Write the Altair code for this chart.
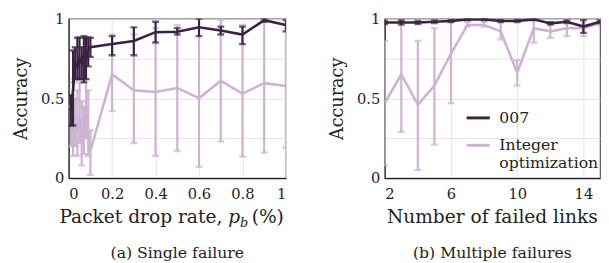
import altair as alt
import pandas as pd

# ---------------- data ----------------
series_names = ["007", "Integer optimization"]
colors = ["#3b2242", "#cdb2d2"]

left_x = [0.01, 0.02, 0.03, 0.04, 0.05, 0.06, 0.07, 0.08, 0.09, 0.1,
          0.2, 0.3, 0.4, 0.5, 0.6, 0.7, 0.8, 0.9, 1.0]
left_007_mean = [0.42, 0.55, 0.72, 0.70, 0.75, 0.72, 0.78, 0.75, 0.80, 0.82,
                 0.84, 0.86, 0.915, 0.918, 0.945, 0.925, 0.90, 0.99, 0.96]
left_007_lo = [0.33, 0.33, 0.62, 0.62, 0.62, 0.62, 0.60, 0.62, 0.70, 0.76,
               0.77, 0.77, 0.85, 0.90, 0.89, 0.90, 0.84, 0.98, 0.92]
left_007_hi = [0.52, 0.80, 0.82, 0.88, 0.88, 0.82, 0.89, 0.88, 0.88, 0.88,
               0.89, 0.945, 0.98, 0.94, 1.00, 0.95, 0.95, 1.00, 0.99]
left_int_mean = [0.30, 0.25, 0.35, 0.30, 0.38, 0.22, 0.32, 0.45, 0.25, 0.17,
                 0.65, 0.55, 0.54, 0.565, 0.50, 0.61, 0.53, 0.595, 0.577]
left_int_lo = [0.20, 0.14, 0.20, 0.14, 0.22, 0.08, 0.15, 0.25, 0.14, 0.02,
               0.42, 0.22, 0.14, 0.17, 0.07, 0.23, 0.135, 0.16, 0.19]
left_int_hi = [0.45, 0.60, 0.50, 0.55, 0.60, 0.48, 0.45, 0.62, 0.55, 0.30,
               0.90, 0.90, 0.94, 0.96, 1.00, 0.99, 0.96, 1.00, 0.96]

right_x = [2, 3, 4, 5, 6, 7, 8, 9, 10, 11, 12, 13, 14, 15]
right_007_mean = [0.975, 0.975, 0.975, 0.98, 0.985, 0.995, 0.995, 0.985, 0.985,
                  0.995, 0.97, 0.98, 0.95, 0.98]
right_007_lo = [0.965, 0.962, 0.965, 0.972, 0.978, 0.99, 0.99, 0.978, 0.978,
                0.99, 0.962, 0.972, 0.91, 0.972]
right_007_hi = [0.985, 0.988, 0.985, 0.988, 0.992, 1.0, 1.0, 0.992, 0.992,
                1.0, 0.978, 0.988, 0.99, 0.988]
right_int_mean = [0.47, 0.65, 0.46, 0.58, 0.78, 0.96, 0.96, 0.92, 0.66, 0.94,
                  0.92, 0.94, 0.94, 0.97]
right_int_lo = [0.08, 0.29, 0.05, 0.21, 0.47, 0.95, 0.95, 0.87, 0.58, 0.85,
                0.88, 0.89, 0.89, 0.96]
right_int_hi = [0.86, 0.99, 0.86, 0.94, 1.00, 0.98, 0.98, 1.00, 0.74, 1.00,
                0.97, 1.00, 1.00, 0.98]

y_ticks = [0, 0.25, 0.5, 0.75, 1]
left_x_ticks = [0, 0.2, 0.4, 0.6, 0.8, 1]
right_x_ticks = [2, 6, 10, 14]

FONT = "DejaVu Serif"
W_L, W_R, H = 222, 220, 163


def make_df(xs, m7, l7, h7, mi, li, hi):
    rows = []
    for x, m, lo, h in zip(xs, m7, l7, h7):
        rows.append({"x": x, "mean": m, "lo": lo, "hi": h, "series": series_names[0]})
    for x, m, lo, h in zip(xs, mi, li, hi):
        rows.append({"x": x, "mean": m, "lo": lo, "hi": h, "series": series_names[1]})
    return pd.DataFrame(rows)


df_left = make_df(left_x, left_007_mean, left_007_lo, left_007_hi,
                  left_int_mean, left_int_lo, left_int_hi)
df_right = make_df(right_x, right_007_mean, right_007_lo, right_007_hi,
                   right_int_mean, right_int_lo, right_int_hi)


def text_layer(txt, x, y, size, align="center", italic=False):
    props = dict(font=FONT, fontSize=size, align=align, baseline="alphabetic", color="#222")
    if italic:
        props["fontStyle"] = "italic"
    return alt.Chart(pd.DataFrame({"t": [txt]})).mark_text(**props).encode(
        text="t:N", x=alt.value(x), y=alt.value(y))


def panel(df, domain, xticks, legend):
    xenc = alt.X("x:Q", scale=alt.Scale(domain=domain, nice=False, zero=False),
                 axis=alt.Axis(values=xticks, format="~g", title="", grid=True))
    yaxis = alt.Axis(values=y_ticks, title="Accuracy",
                     labelExpr="datum.value == 0.25 || datum.value == 0.75 ? '' : datum.label",
                     format="~g")
    yscale = alt.Scale(domain=[0, 1], nice=False)
    cscale = alt.Scale(domain=series_names, range=colors)
    layers = []
    for s in [series_names[1], series_names[0]]:
        base = alt.Chart(df).transform_filter(alt.datum.series == s)
        col = alt.Color("series:N", scale=cscale, legend=legend)
        line = base.mark_line(strokeWidth=2.6, clip=True).encode(
            x=xenc, y=alt.Y("mean:Q", scale=yscale, axis=yaxis), color=col)
        rule = base.mark_rule(strokeWidth=2.2, clip=True).encode(
            x="x:Q", y="lo:Q", y2="hi:Q", color=alt.Color("series:N", scale=cscale, legend=None))
        cap_lo = base.mark_tick(orient="horizontal", size=7, thickness=2.4, clip=True).encode(
            x="x:Q", y="lo:Q", color=alt.Color("series:N", scale=cscale, legend=None))
        cap_hi = base.mark_tick(orient="horizontal", size=7, thickness=2.4, clip=True).encode(
            x="x:Q", y="hi:Q", color=alt.Color("series:N", scale=cscale, legend=None))
        layers += [line, rule, cap_lo, cap_hi]
    return layers


legend_r = alt.Legend(
    title=None, orient="none", legendX=82, legendY=88,
    symbolType="stroke", symbolStrokeWidth=3, symbolSize=560,
    labelFont=FONT, labelFontSize=16, labelColor="#222",
    labelExpr="datum.label == 'Integer optimization' ? ['Integer', 'optimization'] : datum.label",
    rowPadding=6, labelOffset=8,
)

left_layers = panel(df_left, [0, 1], left_x_ticks, None)
left_layers += [
    text_layer("Packet drop rate,", 157, 209, 19, align="right"),
    text_layer("p", 163, 209, 19, align="left", italic=True),
    text_layer("b", 175, 213, 13, align="left", italic=True),
    text_layer("(%)", 187, 209, 19, align="left"),
    text_layer("(a) Single failure", W_L / 2, 245, 16),
]
right_layers = panel(df_right, [2, 15], right_x_ticks, legend_r)
right_layers += [
    text_layer("Number of failed links", W_R / 2, 209, 19),
    text_layer("(b) Multiple failures", W_R / 2, 245, 16),
]

left = alt.layer(*left_layers).properties(width=W_L, height=H)
right = alt.layer(*right_layers).properties(width=W_R, height=H)

chart = alt.hconcat(left, right, spacing=42).resolve_scale(color="independent").properties(
    padding={"left": 4, "top": 0, "right": 0, "bottom": 0}
).configure_view(stroke="#555", strokeWidth=1.2).configure_axis(
    labelFont=FONT, labelFontSize=15, labelColor="#222",
    titleFont=FONT, titleFontSize=18, titleColor="#222", titleFontWeight="normal",
    gridColor="#e4e4e4", gridWidth=1, domainColor="#222", domainWidth=1.2,
    ticks=False, labelPadding=5, titlePadding=10,
).configure_axisX(labelPadding=9)

chart.save("out.html", embed_options={"renderer": "svg", "actions": False})
